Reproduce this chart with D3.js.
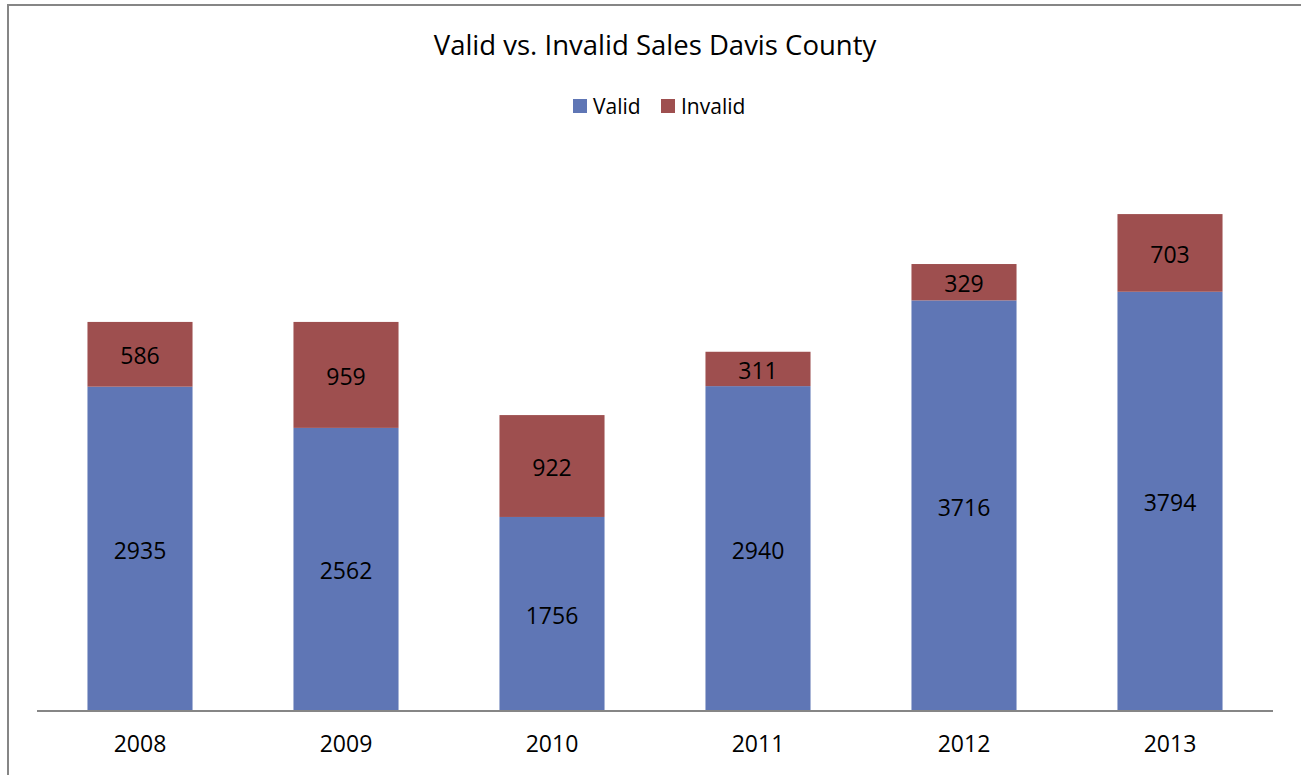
<!DOCTYPE html>
<html><head><meta charset="utf-8">
<script src="https://cdn.jsdelivr.net/npm/d3@7"></script>
<style>body{margin:0;background:#fff;} svg{display:block;font-family:"Open Sans","Noto Sans",sans-serif;}</style>
</head><body>
<svg id="c" width="1301" height="775"></svg>
<script>
const years = ["2008","2009","2010","2011","2012","2013"];
const valid = [2935,2562,1756,2940,3716,3794];
const invalid = [586,959,922,311,329,703];
const seriesNames = ["Valid","Invalid"];
const colors = ["#5f76b5","#9e4f4f"];

const svg = d3.select("#c");
svg.append("rect").attr("x",8).attr("y",5).attr("width",1400).attr("height",900)
  .attr("fill","#fff").attr("stroke","#868686").attr("stroke-width",2);

const left=37, right=1273, bottom=711;
const x = d3.scaleBand().domain(years).range([left,right]).paddingInner(0.49).paddingOuter(0.245);
const y = d3.scaleLinear().domain([0,5000]).range([bottom, bottom-552.5]);

const rows = years.map((yr,i)=>({year:yr, Valid:valid[i], Invalid:invalid[i]}));
const stack = d3.stack().keys(seriesNames)(rows);

const g = svg.append("g");
stack.forEach((s,si)=>{
  g.selectAll(null).data(s).enter().append("rect")
    .attr("x",d=>x(d.data.year)).attr("width",x.bandwidth())
    .attr("y",d=>y(d[1])).attr("height",d=>y(d[0])-y(d[1]))
    .attr("fill",colors[si]);
  g.selectAll(null).data(s).enter().append("text")
    .attr("x",d=>x(d.data.year)+x.bandwidth()/2)
    .attr("y",d=>(y(d[0])+y(d[1]))/2+2)
    .attr("dy","0.35em").attr("text-anchor","middle")
    .attr("font-size",23).attr("fill","#000")
    .text(d=>d[1]-d[0]);
});

const ax = svg.append("g").attr("transform",`translate(0,${bottom})`)
  .call(d3.axisBottom(x).tickSize(0).tickPadding(25));
ax.select(".domain").attr("stroke","#868686").attr("stroke-width",2).attr("d",`M${left},0H${right}`);
ax.selectAll("text").attr("font-size",23).attr("fill","#000").attr("font-family","'Open Sans','Noto Sans',sans-serif");

svg.append("text").attr("x",655).attr("y",55).attr("text-anchor","middle")
  .attr("font-size",27.5).attr("fill","#000").text("Valid vs. Invalid Sales Davis County");

const leg = svg.append("g");
const legItems = [{n:"Valid",x:573,c:colors[0]},{n:"Invalid",x:661,c:colors[1]}];
legItems.forEach(it=>{
  leg.append("rect").attr("x",it.x).attr("y",99).attr("width",14).attr("height",14).attr("fill",it.c);
  leg.append("text").attr("x",it.x+20).attr("y",114).attr("font-size",21).attr("fill","#000").text(it.n);
});
</script>
</body></html>
